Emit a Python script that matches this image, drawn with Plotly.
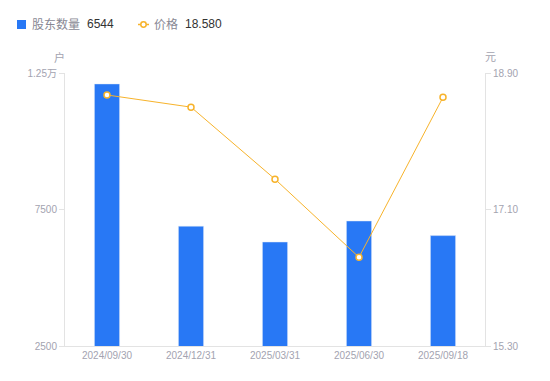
import plotly.graph_objects as go

dates = ["2024/09/30", "2024/12/31", "2025/03/31", "2025/06/30", "2025/09/18"]
holders = [12100, 6890, 6310, 7080, 6544]
prices = [18.61, 18.45, 17.50, 16.47, 18.58]

left_ticks = [2500, 7500, 12500]
left_labels = ["2500", "7500", "1.25万"]
right_ticks = [15.30, 17.10, 18.90]
right_labels = ["15.30", "17.10", "18.90"]

bar_color = "#2878F5"
line_color = "#F7B32B"
grid_c = "#E3E3E3"
tick_c = "#A3A3B0"
FONT = "Liberation Sans, Noto Sans CJK SC, sans-serif"

fig = go.Figure()
fig.add_trace(go.Bar(
    x=dates, y=holders, name="股东数量", marker_color=bar_color,
    width=0.3, yaxis="y", showlegend=False,
))
fig.add_trace(go.Scatter(
    x=dates, y=prices, name="价格", mode="lines+markers", yaxis="y2",
    line=dict(color=line_color, width=1),
    marker=dict(symbol="circle", size=6, color="white", line=dict(color=line_color, width=1.5)),
    showlegend=False,
))

fig.update_layout(
    width=550, height=381,
    margin=dict(l=65, r=65, t=73, b=35, autoexpand=False),
    plot_bgcolor="white", paper_bgcolor="white",
    font=dict(family=FONT, size=11, color=tick_c),
    xaxis=dict(
        showgrid=False, showline=True, linecolor=grid_c, linewidth=1,
        ticks="", tickfont=dict(size=10, color=tick_c), automargin=False,
    ),
    yaxis=dict(
        range=[2500, 12500], tickvals=left_ticks, ticktext=left_labels,
        showgrid=False, showline=True, linecolor=grid_c, linewidth=1,
        ticks="outside", ticklen=5, tickcolor=grid_c, zeroline=False,
        tickfont=dict(size=10, color=tick_c), automargin=False,
    ),
    yaxis2=dict(
        range=[15.30, 18.90], tickvals=right_ticks, ticktext=right_labels,
        overlaying="y", side="right",
        showgrid=False, showline=True, linecolor=grid_c, linewidth=1,
        ticks="outside", ticklen=5, tickcolor=grid_c, zeroline=False,
        tickfont=dict(size=10, color=tick_c), automargin=False,
    ),
)


def px_x(px):
    return (px - 65) / 420


def px_y(py):
    return (346 - py) / 273


shapes = [
    dict(type="rect", xref="paper", yref="paper", x0=px_x(17), x1=px_x(26), y0=px_y(29), y1=px_y(20),
         fillcolor=bar_color, line=dict(width=0)),
    dict(type="line", xref="paper", yref="paper", x0=px_x(138), x1=px_x(149), y0=px_y(24.5), y1=px_y(24.5),
         line=dict(color=line_color, width=1.5)),
    dict(type="circle", xref="paper", yref="paper", x0=px_x(140.8), x1=px_x(146.2), y0=px_y(27.2), y1=px_y(21.8),
         fillcolor="white", line=dict(color=line_color, width=1.5)),
]
fig.update_layout(shapes=shapes)

annos = [
    dict(text="股东数量", x=px_x(30), y=px_y(24.5), xanchor="left", font=dict(size=12, color="#888894")),
    dict(text="6544", x=px_x(84.5), y=px_y(24.5), xanchor="left", font=dict(size=12, color="#333333")),
    dict(text="价格", x=px_x(152), y=px_y(24.5), xanchor="left", font=dict(size=12, color="#888894")),
    dict(text="18.580", x=px_x(182.5), y=px_y(24.5), xanchor="left", font=dict(size=12, color="#333333")),
    dict(text="户", x=px_x(59), y=px_y(57), xanchor="center", font=dict(size=11, color=tick_c)),
    dict(text="元", x=px_x(490), y=px_y(57), xanchor="center", font=dict(size=11, color=tick_c)),
]
for a in annos:
    a.update(xref="paper", yref="paper", yanchor="middle", showarrow=False)
fig.update_layout(annotations=annos)

fig.write_html("out.html", config={"displayModeBar": False},
               post_script="document.body.style.margin='0';document.body.style.padding='0';")
